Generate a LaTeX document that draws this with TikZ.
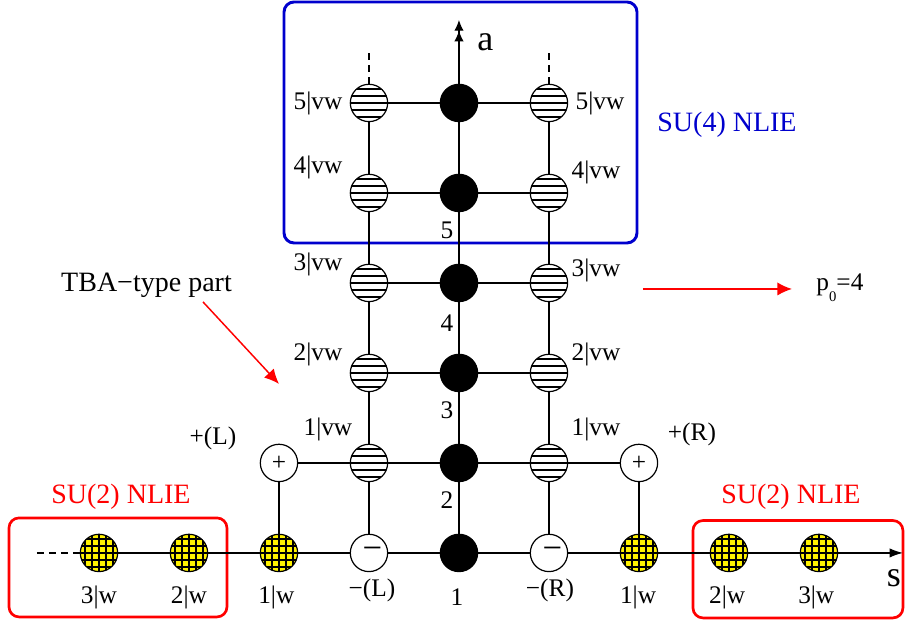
\documentclass[tikz,border=0pt]{standalone}
\usepackage{fontspec}
\setmainfont{Liberation Serif}
\usetikzlibrary{arrows.meta}
\definecolor{boxblue}{RGB}{0,0,205}
\newcommand{\lblfont}{\fontsize{19}{22}\selectfont}
\newcommand{\hdgfont}{\fontsize{21}{25}\selectfont}
\newcommand{\axfont}{\fontsize{27}{30}\selectfont}

\begin{document}
\begin{tikzpicture}[x=67.5pt,y=67.5pt,
  site/.style={circle,draw,line width=0.9pt,minimum size=28pt,inner sep=0pt},
  blk/.style={site,fill=black},
  hatch/.style={site,fill=white,path picture={
    \foreach \d in {-10.5,-5.25,0,5.25,10.5}
      \draw[line width=0.9pt] ([yshift=\d pt]path picture bounding box.west) -- ([yshift=\d pt]path picture bounding box.east);}},
  wsite/.style={site,fill=yellow,path picture={
    \foreach \d in {-10.5,-5.25,0,5.25,10.5} {
      \draw[line width=1.1pt] ([yshift=\d pt]path picture bounding box.west) -- ([yshift=\d pt]path picture bounding box.east);
      \draw[line width=1.1pt] ([xshift=\d pt]path picture bounding box.north) -- ([xshift=\d pt]path picture bounding box.south);}}},
  pm/.style={site,fill=white,font=\lblfont},
  conn/.style={line width=0.9pt},
  dashconn/.style={conn,dash pattern=on 5pt off 4pt},
  redarr/.style={red,line width=1.1pt,-{Latex[length=11pt,width=10pt]}},
  lbl/.style={font=\lblfont,inner sep=0pt},
  hdg/.style={font=\hdgfont,inner sep=0pt}]
\useasboundingbox (-5.1,-0.778) rectangle (4.956,6.144);
% boxes
\draw[boxblue,line width=2.2pt,rounded corners=7.5pt] (-1.944,3.444) rectangle (1.978,6.122);
\draw[red,line width=2pt,rounded corners=7.5pt] (-5.0,-0.711) rectangle (-2.578,0.389);
\draw[red,line width=2pt,rounded corners=7.5pt] (2.6,-0.722) rectangle (4.933,0.36);
% sites
\foreach \k in {1,...,5} {
  \node[blk] (b\k) at (0,\k) {};
  \node[hatch] (hL\k) at (-1,\k) {};
  \node[hatch] (hR\k) at (1,\k) {};
}
\node[blk] (b0) at (0,0) {};
\node[pm,font=\fontsize{26}{26}\selectfont] (mL) at (-1,0) {\hspace{5pt}−};
\node[pm,font=\fontsize{26}{26}\selectfont] (mR) at (1,0) {\hspace{5pt}−};
\node[pm] (pL) at (-2,1) {+};
\node[pm] (pR) at (2,1) {+};
\node[wsite] (wL1) at (-2,0) {};
\node[wsite] (wL2) at (-3,0) {};
\node[wsite] (wL3) at (-4,0) {};
\node[wsite] (wR1) at (2,0) {};
\node[wsite] (wR2) at (3,0) {};
\node[wsite] (wR3) at (4,0) {};
\coordinate (atip) at (0,5.922);
\coordinate (stip) at (4.933,0);
\coordinate (sdash) at (-4.69,0);
\coordinate (tL) at (-1,5.6);
\coordinate (tR) at (1,5.6);
% links
\foreach \j/\k in {0/1,1/2,2/3,3/4,4/5}
  \draw[conn] (b\j) -- (b\k);
\foreach \j/\k in {1/2,2/3,3/4,4/5} {
  \draw[conn] (hL\j) -- (hL\k);
  \draw[conn] (hR\j) -- (hR\k);
}
\foreach \k in {1,...,5}
  \draw[conn] (hL\k) -- (b\k) -- (hR\k);
\draw[conn,-{Latex[length=8pt,width=7pt]Latex[length=8pt,width=7pt]}] (b5) -- (atip);
\draw[dashconn] (hL5) -- (tL);
\draw[dashconn] (hR5) -- (tR);
\draw[conn] (mL) -- (hL1);
\draw[conn] (mR) -- (hR1);
\draw[conn] (pL) -- (hL1);
\draw[conn] (hR1) -- (pR);
\draw[conn] (pL) -- (wL1);
\draw[conn] (pR) -- (wR1);
\draw[dashconn] (sdash) -- (wL3);
\draw[conn] (wL3) -- (wL2) -- (wL1) -- (mL) -- (b0) -- (mR) -- (wR1) -- (wR2) -- (wR3);
\draw[conn,-{Latex[length=10pt,width=7pt]}] (wR3) -- (stip);
% labels
\node[font=\axfont,inner sep=0pt] (alab) at (0.294,5.672) {a};
\node[font=\axfont,inner sep=0pt] (slab) at (4.833,-0.278) {s};
\node[lbl] (tL5) at (-1.567,4.989) {5|vw};
\node[lbl] (tL4) at (-1.567,4.278) {4|vw};
\node[lbl] (tL3) at (-1.567,3.211) {3|vw};
\node[lbl] (tL2) at (-1.567,2.2) {2|vw};
\node[lbl] (tL1) at (-1.456,1.367) {1|vw};
\node[lbl] (tR5) at (1.567,4.989) {5|vw};
\node[lbl] (tR4) at (1.522,4.233) {4|vw};
\node[lbl] (tR3) at (1.522,3.144) {3|vw};
\node[lbl] (tR2) at (1.522,2.2) {2|vw};
\node[lbl] (tR1) at (1.522,1.367) {1|vw};
\node[lbl] (n5) at (-0.135,3.58) {5};
\node[lbl] (n4) at (-0.133,2.556) {4};
\node[lbl] (n3) at (-0.133,1.589) {3};
\node[lbl] (n2) at (-0.133,0.589) {2};
\node[lbl] (n1) at (-0.022,-0.489) {1};
\node[lbl] (plL) at (-2.733,1.278) {+(L)};
\node[lbl] (plR) at (2.589,1.322) {+(R)};
\node[lbl] (miL) at (-0.967,-0.411) {−(L)};
\node[lbl] (miR) at (1.011,-0.411) {−(R)};
\node[lbl] (tw1L) at (-2.03,-0.489) {1|w};
\node[lbl] (tw2L) at (-3,-0.489) {2|w};
\node[lbl] (tw3L) at (-4,-0.489) {3|w};
\node[lbl] (tw1R) at (1.99,-0.489) {1|w};
\node[lbl] (tw2R) at (2.98,-0.489) {2|w};
\node[lbl] (tw3R) at (3.97,-0.489) {3|w};
\node[hdg,red] (su2L) at (-3.756,0.622) {SU(2) NLIE};
\node[hdg,red] (su2R) at (3.689,0.622) {SU(2) NLIE};
\node[hdg,boxblue] (su4) at (2.978,4.756) {SU(4) NLIE};
\node[hdg] (tba) at (-3.472,2.978) {TBA−type part};
\node[lbl] (p0) at (4.233,2.944) {p\raisebox{-0.45em}{\fontsize{11}{12}\selectfont 0}=4};
% pointers
\coordinate (tbafrom) at (-2.844,2.789);
\coordinate (tbato) at (-2.0,1.878);
\coordinate (pfrom) at (2.044,2.933);
\coordinate (pto) at (3.70,2.933);
\draw[redarr] (tbafrom) -- (tbato);
\draw[redarr] (pfrom) -- (pto);
\end{tikzpicture}
\end{document}
